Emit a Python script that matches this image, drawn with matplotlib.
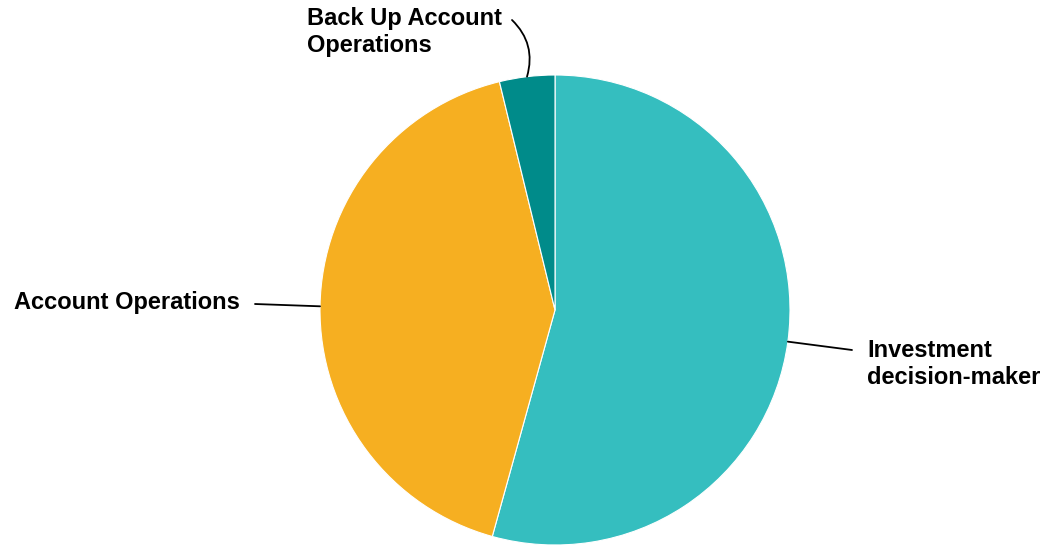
import numpy as np
import matplotlib.pyplot as plt

plt.rcParams["font.family"] = ["Liberation Sans", "DejaVu Sans"]

labels = ["Investment\ndecision-maker", "Account Operations", "Back Up Account\nOperations"]
shares = [54.3, 41.9, 3.8]
colors = ["#35BEBF", "#F6AF21", "#008B8A"]

W, H = 1057, 546
fig = plt.figure(figsize=(W / 100, H / 100), dpi=100)
ax = fig.add_axes([0, 0, 1, 1])

cx, cy, r = 555, H - 310, 235
wedges, _ = ax.pie(shares, colors=colors, startangle=90, counterclock=False,
                   center=(cx, cy), radius=r, frame=True,
                   wedgeprops=dict(edgecolor="white", linewidth=0.8))
ax.set_xlim(0, W)
ax.set_ylim(0, H)
ax.set_aspect("equal")
ax.axis("off")

# leader line end points and text anchors (pixel coords, y measured from top)
line_ends = [(852, 350), (255, 304), (512, 20)]
text_pos = [(867, 364, "left", "center"), (240, 302, "right", "center"), (307, 32, "left", "center")]
curves = [0.0, 0.0, -0.3]

for w, lab, end, tp, rad in zip(wedges, labels, line_ends, text_pos, curves):
    ang = np.deg2rad((w.theta1 + w.theta2) / 2)
    x0 = cx + r * np.cos(ang)
    y0 = cy + r * np.sin(ang)
    ax.annotate("", xy=(x0, y0), xytext=(end[0], H - end[1]),
                arrowprops=dict(arrowstyle="-", color="black", lw=1.3,
                                shrinkA=0, shrinkB=0,
                                connectionstyle=f"arc3,rad={rad}"))
    ax.text(tp[0], H - tp[1], lab, ha=tp[2], va=tp[3], fontsize=17,
            fontweight="bold", linespacing=1.2)

fig.savefig("out.png", dpi=100, facecolor="white")
